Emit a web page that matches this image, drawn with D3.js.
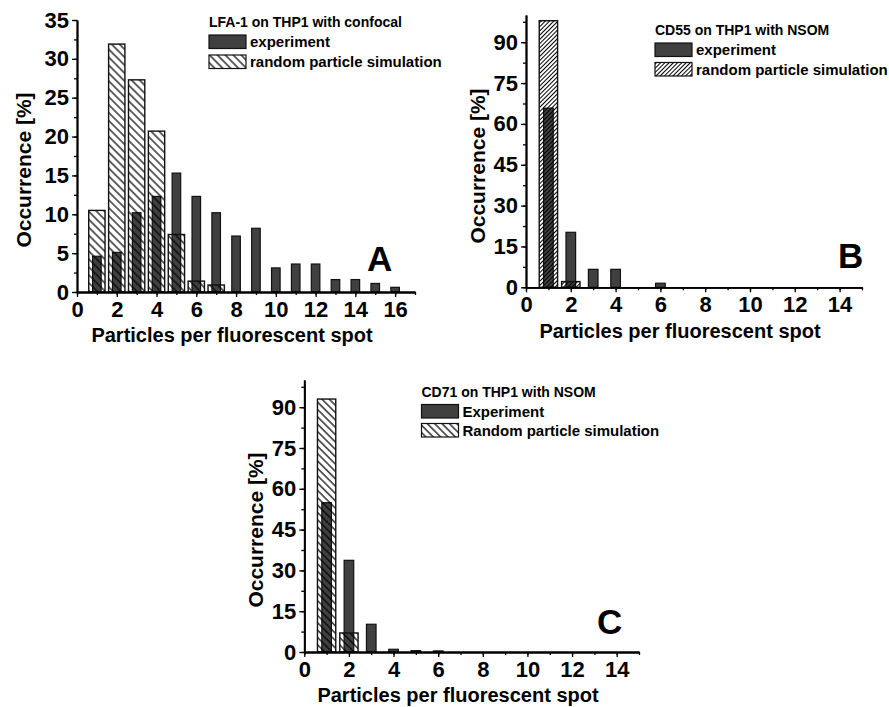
<!DOCTYPE html>
<html><head><meta charset="utf-8">
<script src="https://cdn.jsdelivr.net/npm/d3@7"></script>
<style>body{margin:0;background:#fff}svg{display:block}text{font-family:"Liberation Sans",Arial,sans-serif;font-weight:bold;fill:#000}</style>
</head><body>
<script>
// ---- data ----
const xA = [1,2,3,4,5,6,7,8,9,10,11,12,13,14,15,16];
const expA = [4.6,5.1,10.2,12.3,15.3,12.3,10.2,7.2,8.2,3.1,3.6,3.6,1.6,1.6,1.1,0.6];
const xSimA = [1,2,3,4,5,6,7];
const simA = [10.5,31.9,27.3,20.7,7.4,1.4,0.9];

const xB = [1,2,3,4,6];
const expB = [65.8,20.2,6.6,6.6,1.5];
const xSimB = [1,2];
const simB = [97.9,2.1];

const xC = [1,2,3,4,5,6];
const expC = [54.9,33.7,10.2,1.0,0.5,0.4];
const xSimC = [1,2];
const simC = [93.0,7.0];

const ticksA_x = [0,2,4,6,8,10,12,14,16];
const ticksA_y = [0,5,10,15,20,25,30,35];
const ticksBC_x = [0,2,4,6,8,10,12,14];
const ticksBC_y = [0,15,30,45,60,75,90];

const W = 889, H = 707;
const svg = d3.select("body").append("svg").attr("width", W).attr("height", H);
const defs = svg.append("defs");

function hatch(id, angle, spacing, sw) {
  const p = defs.append("pattern").attr("id", id).attr("patternUnits", "userSpaceOnUse")
    .attr("width", spacing).attr("height", spacing)
    .attr("patternTransform", `rotate(${angle})`);
  p.append("line").attr("x1", spacing/2).attr("y1", -1).attr("x2", spacing/2).attr("y2", spacing+1)
    .attr("stroke", "#000").attr("stroke-width", sw);
}
hatch("hA", -45, 5.6, 1.2);
hatch("hB", 45, 3.0, 1.0);
hatch("hC", -45, 5.2, 1.2);

const panels = [
  {x0:77, x1:415, yb:292, yt:20, xmax:17, ymax:35, xt:ticksA_x, yt_:ticksA_y, yminor:2.5,
   ex:xA, ev:expA, sx:xSimA, sv:simA, pat:"hA",
   legTitle:"LFA-1 on THP1 with confocal", leg1:"experiment", leg2:"random particle simulation",
   lx:209, ltY:27, sw1:35, sw2:55, letter:"A", letX:367, letY:271,
   ytX:31, ytY:170, xtX:232, xtY:342},
  {x0:526, x1:862, yb:287.3, yt:15, xmax:15, ymax:100, xt:ticksBC_x, yt_:ticksBC_y, yminor:7.5,
   ex:xB, ev:expB, sx:xSimB, sv:simB, pat:"hB",
   legTitle:"CD55 on THP1 with NSOM", leg1:"experiment", leg2:"random particle simulation",
   lx:655, ltY:35, sw1:43, sw2:62.5, letter:"B", letX:838, letY:268,
   ytX:485, ytY:166, xtX:680, xtY:338},
  {x0:304.3, x1:639, yb:652, yt:380, xmax:15, ymax:100, xt:ticksBC_x, yt_:ticksBC_y, yminor:7.5,
   ex:xC, ev:expC, sx:xSimC, sv:simC, pat:"hC",
   legTitle:"CD71 on THP1 with NSOM", leg1:"Experiment", leg2:"Random particle simulation",
   lx:421.5, ltY:397, sw1:404.5, sw2:423.5, letter:"C", letX:597, letY:634,
   ytX:263, ytY:530, xtX:458, xtY:702}
];

panels.forEach(p => {
  const x = d3.scaleLinear().domain([0, p.xmax]).range([p.x0, p.x1]);
  const y = d3.scaleLinear().domain([0, p.ymax]).range([p.yb, p.yt]);
  const g = svg.append("g");
  const unit = x(1) - x(0);
  const wS = 0.82 * unit, wE = 0.43 * unit;

  // experiment bars
  g.selectAll(".e").data(p.ex.map((v,i)=>({x:v, y:p.ev[i]}))).enter().append("rect")
    .attr("x", d => x(d.x) - wE/2).attr("width", wE)
    .attr("y", d => y(d.y)).attr("height", d => y(0) - y(d.y))
    .attr("fill", "#404040").attr("stroke", "#111").attr("stroke-width", 1.2);
  // simulation bars (hatched, transparent background)
  g.selectAll(".s").data(p.sx.map((v,i)=>({x:v, y:p.sv[i]}))).enter().append("rect")
    .attr("x", d => x(d.x) - wS/2).attr("width", wS)
    .attr("y", d => y(d.y)).attr("height", d => y(0) - y(d.y))
    .attr("fill", `url(#${p.pat})`).attr("stroke", "#111").attr("stroke-width", 1.4);

  // axes
  const minorX = d3.range(0, p.xmax + 0.01, 1);
  const minorY = d3.range(0, p.ymax + 0.01, p.yminor);
  const gx = g.append("g").attr("transform", `translate(0,${p.yb})`);
  gx.call(d3.axisBottom(x).tickValues(minorX).tickSize(3).tickFormat("").tickSizeOuter(0));
  gx.append("g").call(d3.axisBottom(x).tickValues(p.xt).tickSize(5).tickPadding(4).tickFormat(d3.format("d")).tickSizeOuter(0));
  const gy = g.append("g").attr("transform", `translate(${p.x0},0)`);
  gy.call(d3.axisLeft(y).tickValues(minorY).tickSize(3).tickFormat("").tickSizeOuter(0));
  gy.append("g").call(d3.axisLeft(y).tickValues(p.yt_).tickSize(5).tickPadding(3).tickFormat(d3.format("d")).tickSizeOuter(0));
  g.selectAll(".domain").attr("stroke", "#000").attr("stroke-width", 1.8);
  g.selectAll(".tick line").attr("stroke", "#000").attr("stroke-width", 1.3);
  g.selectAll(".tick text").style("font-size", "22px").style("font-family", "Liberation Sans, Arial, sans-serif").style("font-weight", "bold").attr("fill", "#000");

  // axis titles
  g.append("text").attr("transform", `translate(${p.ytX},${p.ytY}) rotate(-90)`)
    .attr("text-anchor", "middle").style("font-size", "21px").text("Occurrence [%]");
  g.append("text").attr("x", p.xtX).attr("y", p.xtY).attr("text-anchor", "middle")
    .style("font-size", "20px").text("Particles per fluorescent spot");

  // legend
  g.append("text").attr("x", p.lx).attr("y", p.ltY).style("font-size", "14px").text(p.legTitle);
  const swW = 37, swH = 13.5;
  g.append("rect").attr("x", p.lx).attr("y", p.sw1).attr("width", swW).attr("height", swH)
    .attr("fill", "#404040").attr("stroke", "#111").attr("stroke-width", 1.2);
  g.append("rect").attr("x", p.lx).attr("y", p.sw2).attr("width", swW).attr("height", swH)
    .attr("fill", `url(#${p.pat})`).attr("stroke", "#111").attr("stroke-width", 1.2);
  g.append("text").attr("x", p.lx + swW + 4).attr("y", p.sw1 + 12).style("font-size", "15px").text(p.leg1);
  g.append("text").attr("x", p.lx + swW + 4).attr("y", p.sw2 + 12).style("font-size", "15px").text(p.leg2);

  // panel letter
  g.append("text").attr("x", p.letX).attr("y", p.letY).style("font-size", "35px").text(p.letter);
});
</script>
</body></html>
